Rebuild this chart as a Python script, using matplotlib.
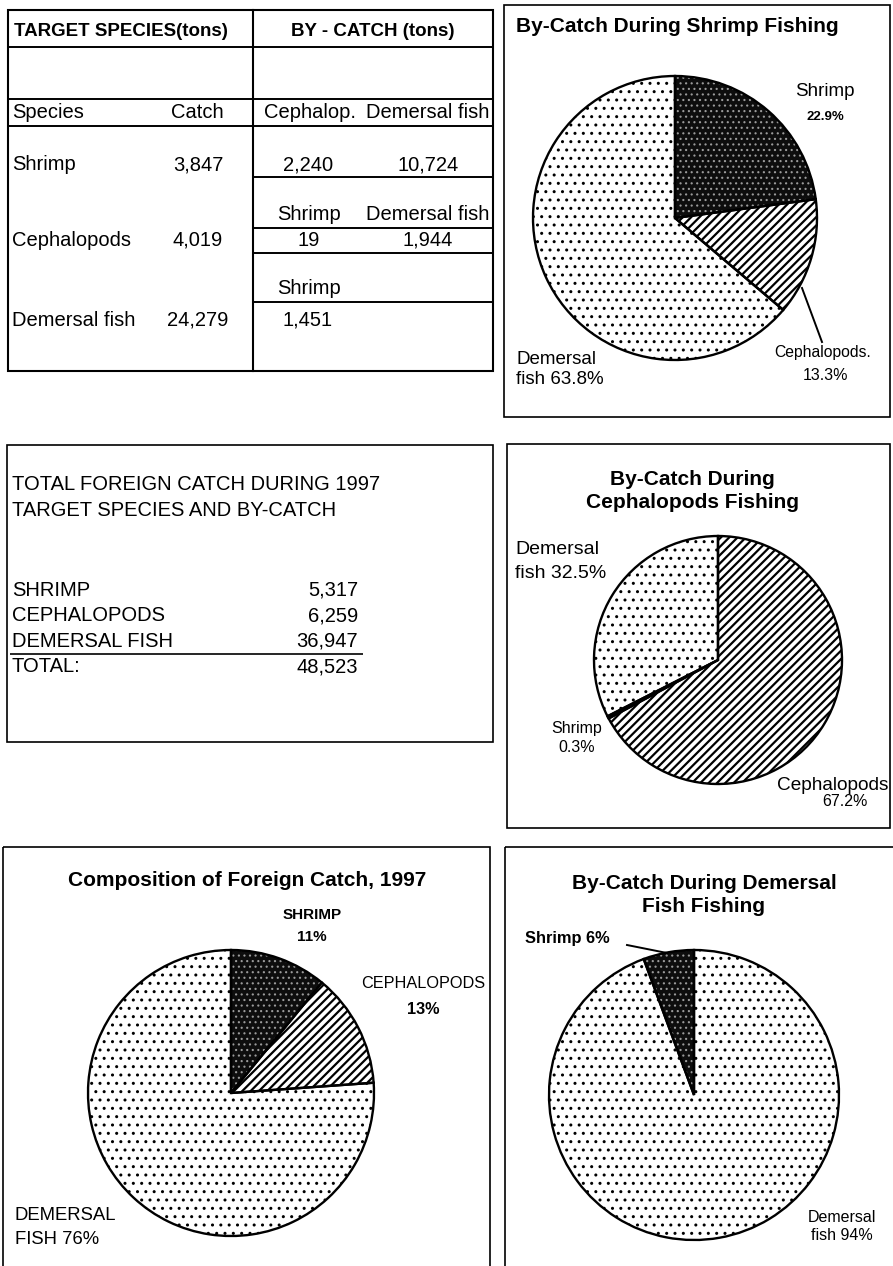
import matplotlib.pyplot as plt
from matplotlib.patches import Rectangle

plt.rcParams['font.family'] = ['Liberation Sans', 'DejaVu Sans']
plt.rcParams['hatch.linewidth'] = 1.3

W, H = 893, 1266

# catch table (tons)
species = ["Shrimp", "Cephalopods", "Demersal fish"]
target_catch = [3847, 4019, 24279]
bycatch_shrimp_fishing = [2240, 10724]   # cephalopods, demersal fish
bycatch_ceph_fishing = [19, 1944]        # shrimp, demersal fish
bycatch_dem_fishing = [1451]             # shrimp

# totals 1997
total_names = ["SHRIMP", "CEPHALOPODS", "DEMERSAL FISH"]
total_catch = [5317, 6259, 36947]
grand_total = 48523

# pie slices
shrimp_pie = [target_catch[0]] + bycatch_shrimp_fishing          # shrimp, ceph, dem
shrimp_kinds = ["shrimp", "ceph", "dem"]
ceph_pie = [target_catch[1]] + bycatch_ceph_fishing              # ceph, shrimp, dem
ceph_kinds = ["ceph", "shrimp", "dem"]
comp_pie = total_catch
comp_kinds = ["shrimp", "ceph", "dem"]
dem_pie = bycatch_dem_fishing + [target_catch[2]]                # shrimp, dem
dem_kinds = ["shrimp", "dem"]

styles = {
    "shrimp": dict(fc="#0d0d0d", hc="#9a9a9a", hatch="...", hlw=0.8),
    "ceph": dict(fc="white", hc="black", hatch="////", hlw=1.6),
    "dem": dict(fc="white", hc="black", hatch="..", hlw=1.0),
}

fig = plt.figure(figsize=(W / 100, H / 100), dpi=100)


def draw_pie(vals, kinds, cx, cy, r, counterclock=False):
    pad = 1.08
    ax = fig.add_axes([(cx - r * pad) / W, 1 - (cy + r * pad) / H,
                       2 * r * pad / W, 2 * r * pad / H])
    wedges, _ = ax.pie(vals, startangle=90, counterclock=counterclock,
                       wedgeprops=dict(linewidth=0))
    for w, k in zip(wedges, kinds):
        s = styles[k]
        w.set_facecolor(s["fc"])
        w.set_edgecolor(s["hc"])
        w.set_hatch(s["hatch"])
        if hasattr(w, "set_hatch_linewidth"):
            w.set_hatch_linewidth(s["hlw"])
    ax.pie(vals, startangle=90, counterclock=counterclock,
           wedgeprops=dict(fill=False, edgecolor="black", linewidth=1.7))
    ax.set_xlim(-pad, pad)
    ax.set_ylim(-pad, pad)
    ax.set_aspect("auto")
    ax.axis("off")


draw_pie(shrimp_pie, shrimp_kinds, 675, 218, 142)
draw_pie(ceph_pie, ceph_kinds, 718, 660, 124)
draw_pie(comp_pie, comp_kinds, 231, 1093, 143)
draw_pie(dem_pie, dem_kinds, 694, 1095, 145, counterclock=True)

# overlay in pixel coords for boxes and text
ov = fig.add_axes([0, 0, 1, 1])
ov.set_xlim(0, W)
ov.set_ylim(H, 0)
ov.axis("off")


def box(x0, y0, x1, y1, lw=1.2):
    ov.add_patch(Rectangle((x0, y0), x1 - x0, y1 - y0, fill=False, ec="black", lw=lw))


def hline(x0, x1, y, lw=1.4):
    ov.plot([x0, x1], [y, y], color="black", lw=lw, solid_capstyle="butt")


def txt(x, y, s, size=14.5, ha="left", weight="normal", **kw):
    ov.text(x, y, s, fontsize=size, ha=ha, va="center", fontweight=weight, **kw)


fmt = lambda v: f"{v:,}"

# ---- table panel ----
box(8, 10, 493, 371, lw=1.5)
ov.plot([253, 253], [10, 371], color="black", lw=1.5)
for y in [47, 99, 126]:
    hline(8, 493, y)
for y in [177, 228, 253, 302]:
    hline(253, 493, y)

txt(14, 31, "TARGET SPECIES(tons)", size=13.5, weight="bold")
txt(373, 31, "BY - CATCH (tons)", size=13.5, ha="center", weight="bold")
txt(12, 113, "Species")
txt(197, 113, "Catch", ha="center")
txt(310, 113, "Cephalop.", ha="center")
txt(428, 113, "Demersal fish", ha="center")

row_y = [165, 240, 320]
for name, c, y in zip(species, target_catch, row_y):
    txt(12, y, name)
    txt(198, y, fmt(c), ha="center")

txt(308, 165, fmt(bycatch_shrimp_fishing[0]), ha="center")
txt(428, 165, fmt(bycatch_shrimp_fishing[1]), ha="center")
txt(309, 215, "Shrimp", ha="center")
txt(428, 215, "Demersal fish", ha="center")
txt(309, 240, fmt(bycatch_ceph_fishing[0]), ha="center")
txt(428, 240, fmt(bycatch_ceph_fishing[1]), ha="center")
txt(309, 288, "Shrimp", ha="center")
txt(308, 320, fmt(bycatch_dem_fishing[0]), ha="center")

# ---- totals panel ----
box(7, 445, 493, 742)
txt(12, 485, "TOTAL FOREIGN CATCH DURING 1997")
txt(12, 511, "TARGET SPECIES AND BY-CATCH")
for i, (name, v) in enumerate(zip(total_names, total_catch)):
    y = 590 + i * 25.7
    txt(12, y, name)
    txt(358, y, fmt(v), ha="right")
hline(10, 363, 654, lw=1.2)
txt(12, 667, "TOTAL:")
txt(358, 667, fmt(grand_total), ha="right")

# ---- shrimp fishing pie panel ----
box(504, 5, 890, 417)
txt(516, 26, "By-Catch During Shrimp Fishing", size=15, weight="bold")
txt(825, 92, "Shrimp", size=13.5, ha="center")
txt(825, 117, "22.9%", size=9.5, ha="center", weight="bold")
txt(823, 353, "Cephalopods.", size=11.3, ha="center")
txt(825, 375, "13.3%", size=11.5, ha="center")
txt(516, 360, "Demersal", size=13.5)
txt(516, 379, "fish 63.8%", size=13.5)
ov.plot([802, 822], [288, 342], color="black", lw=1.4)

# ---- cephalopod fishing pie panel ----
box(507, 444, 890, 828)
txt(692, 491, "By-Catch During\nCephalopods Fishing", size=15, ha="center",
    weight="bold", linespacing=1.3)
txt(515, 550, "Demersal", size=14)
txt(515, 573, "fish 32.5%", size=14)
txt(577, 728, "Shrimp", size=11.5, ha="center")
txt(577, 748, "0.3%", size=11.5, ha="center")
txt(833, 786, "Cephalopods", size=13.7, ha="center")
txt(845, 801, "67.2%", size=11.5, ha="center")

# ---- composition pie panel ----
box(3, 847, 490, 1290)
txt(247, 880, "Composition of Foreign Catch, 1997", size=15, ha="center", weight="bold")
txt(312, 915, "SHRIMP", size=11, ha="center", weight="bold")
txt(312, 937, "11%", size=11, ha="center", weight="bold")
txt(423, 983, "CEPHALOPODS", size=11.7, ha="center")
txt(423, 1010, "13%", size=11.7, ha="center", weight="bold")
txt(15, 1216, "DEMERSAL", size=13.3)
txt(15, 1240, "FISH 76%", size=13.3)

# ---- demersal fishing pie panel ----
box(505, 847, 905, 1290)
txt(704, 895, "By-Catch During Demersal\nFish Fishing", size=15, ha="center",
    weight="bold", linespacing=1.3)
txt(525, 938, "Shrimp 6%", size=11.8, weight="bold")
ov.plot([627, 667], [945, 953], color="black", lw=1.4)
txt(842, 1217, "Demersal", size=11.5, ha="center")
txt(842, 1236, "fish 94%", size=11.5, ha="center")

fig.savefig("out.png", dpi=100)
